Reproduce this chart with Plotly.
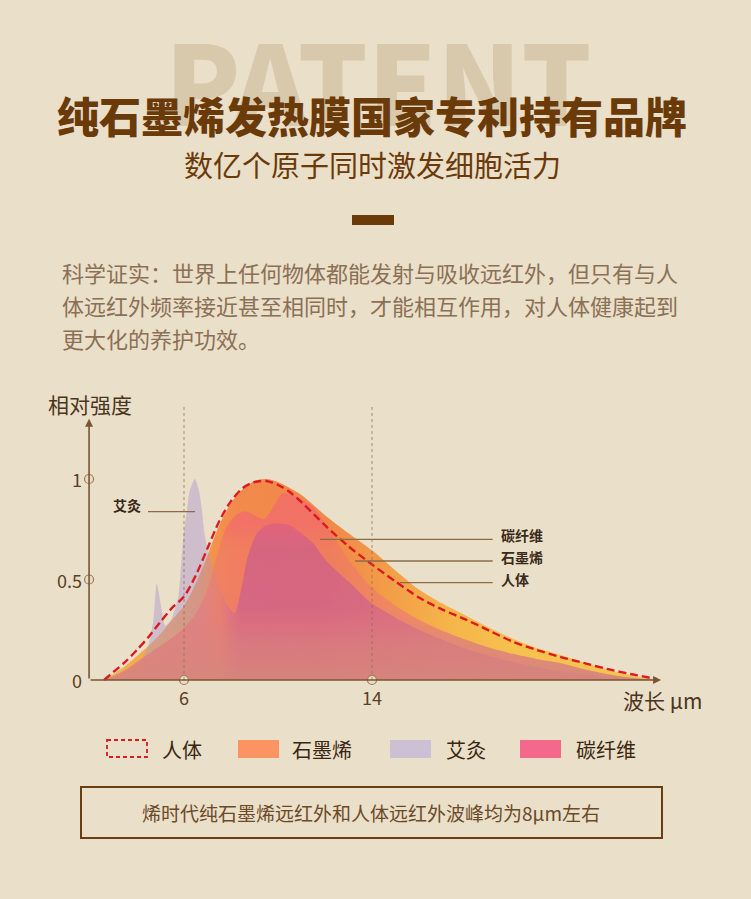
import plotly.graph_objects as go

W, H = 751, 899
BG = "#EADFC9"
BROWN = "#6B3A09"
FONT = "Noto Sans CJK SC"

# ---------------- data ----------------
human_x = [2.6, 3.0, 3.5, 4.0, 4.5, 5.0, 5.5, 6.0, 6.5, 7.0, 7.5, 8.0, 8.5, 9.0, 9.5, 10.0,
           10.5, 11.0, 12.0, 13.0, 14.0, 15.0, 16.0, 17.0, 18.0, 19.0, 20.0, 21.0, 22.0,
           23.0, 24.0, 25.0, 26.1]
human_y = [0.0, 0.04, 0.09, 0.15, 0.215, 0.29, 0.36, 0.415, 0.52, 0.655, 0.79, 0.89, 0.955,
           0.985, 0.99, 0.97, 0.935, 0.885, 0.77, 0.665, 0.575, 0.49, 0.41, 0.35, 0.30,
           0.245, 0.19, 0.15, 0.115, 0.085, 0.055, 0.03, 0.005]

graphene_x = [2.6, 3.0, 3.5, 4.0, 4.5, 5.0, 5.5, 6.0, 6.5, 7.0, 7.5, 8.0, 8.5, 9.0, 9.5, 10.0,
              10.5, 11.0, 12.0, 13.0, 14.0, 15.0, 16.0, 17.0, 18.0, 19.0, 20.0, 21.0, 22.0,
              23.0, 24.0, 25.0, 26.1]
graphene_y = [0.0, 0.03, 0.07, 0.12, 0.17, 0.23, 0.30, 0.37, 0.48, 0.62, 0.77, 0.88, 0.95,
              0.99, 1.0, 0.985, 0.955, 0.92, 0.82, 0.73, 0.645, 0.545, 0.45, 0.38, 0.32,
              0.26, 0.205, 0.16, 0.125, 0.088, 0.052, 0.025, 0.0]

carbon_x = [2.6, 3.0, 3.5, 4.0, 4.5, 5.0, 5.5, 6.0, 6.5, 7.0, 7.4, 7.8, 8.2, 8.6, 9.0, 9.4,
            9.8, 10.2, 10.6, 11.0, 11.5, 12.0, 13.0, 14.0, 15.0, 16.0, 17.0, 18.0, 19.0,
            20.0, 21.0, 22.0, 23.0, 24.0, 25.0, 26.0]
carbon_y = [0.0, 0.02, 0.05, 0.09, 0.13, 0.17, 0.21, 0.26, 0.33, 0.45, 0.62, 0.76, 0.82,
            0.84, 0.82, 0.80, 0.86, 0.93, 0.92, 0.90, 0.86, 0.78, 0.60, 0.46, 0.37, 0.30,
            0.245, 0.20, 0.16, 0.13, 0.105, 0.085, 0.055, 0.03, 0.012, 0.0]

moxa_x = [3.3, 3.8, 4.2, 4.5, 4.7, 4.84, 5.05, 5.2, 5.45, 5.75, 5.97, 6.11, 6.25, 6.47, 6.62,
          6.75, 6.9, 7.4, 7.8, 8.15, 8.45, 8.7, 9.1, 9.5, 9.9, 10.5, 11.0, 11.5, 12.0, 13.0,
          14.0, 15.0, 16.0, 17.0, 18.0, 19.0, 20.0, 21.0, 22.0, 23.0, 24.0, 25.0, 26.0]
moxa_y = [0.0, 0.04, 0.10, 0.18, 0.30, 0.48, 0.35, 0.27, 0.30, 0.41, 0.71, 0.83, 0.945, 1.0,
          0.95, 0.86, 0.71, 0.50, 0.38, 0.33, 0.46, 0.61, 0.73, 0.77, 0.78, 0.77, 0.73, 0.68,
          0.60, 0.49, 0.38, 0.31, 0.25, 0.20, 0.155, 0.12, 0.09, 0.065, 0.045, 0.03, 0.015,
          0.005, 0.0]

y_ticks = [0, 0.5, 1]
y_tick_labels = ["0", "0.5", "1"]
x_ticks = [6, 14]
x_tick_labels = ["6", "14"]

legend_names = ["人体", "石墨烯", "艾灸", "碳纤维"]
title = "纯石墨烯发热膜国家专利持有品牌"
subtitle = "数亿个原子同时激发细胞活力"
para = ["科学证实：世界上任何物体都能发射与吸收远红外，但只有与人",
        "体远红外频率接近甚至相同时，才能相互作用，对人体健康起到",
        "更大化的养护功效。"]
note = "烯时代纯石墨烯远红外和人体远红外波峰均为8μm左右"

# ---------------- helpers (pixel -> paper) ----------------
def P(px):
    return px / W

def Q(py):
    return 1 - py / H

X0 = 6 - 184 / 23.5
X1 = 6 + (W - 184) / 23.5
Y0 = (680 - H) / 201
Y1 = 680 / 201

annotations = []
shapes = []

def text(px, py, s, size, color, xanchor="center", weight=None, family=FONT):
    f = dict(family=family, size=size, color=color)
    if weight is not None:
        f["weight"] = weight
    annotations.append(dict(x=P(px), y=Q(py), xref="paper", yref="paper", text=s,
                            showarrow=False, xanchor=xanchor, yanchor="middle", font=f))

fig = go.Figure()

# graphene (orange -> yellow)
fig.add_trace(go.Scatter(
    x=graphene_x, y=graphene_y, mode="lines", line=dict(width=0, shape="spline", smoothing=0.8),
    fill="tozeroy",
    fillgradient=dict(type="horizontal", colorscale=[
        [0.0, "#F6B44B"], [0.12, "#F5A24C"], [0.24, "#F28A4C"], [0.40, "#F08848"],
        [0.50, "#F29A48"], [0.62, "#F5B44A"], [0.75, "#F6C24E"], [1.0, "#F7C452"]]),
    hoverinfo="skip", showlegend=False))

# moxa (lavender -> mauve)
fig.add_trace(go.Scatter(
    x=moxa_x, y=moxa_y, mode="lines", line=dict(width=0, shape="spline", smoothing=0.6),
    fill="tozeroy",
    fillgradient=dict(type="horizontal", colorscale=[
        [0.0, "rgba(172,148,205,0.45)"], [0.15, "rgba(172,148,205,0.45)"],
        [0.185, "rgba(180,140,190,0.22)"], [0.205, "rgba(175,90,170,0.45)"],
        [0.225, "rgba(168,70,170,0.6)"], [1.0, "rgba(168,75,165,0.55)"]]),
    hoverinfo="skip", showlegend=False))

# carbon fibre (pink)
fig.add_trace(go.Scatter(
    x=carbon_x, y=carbon_y, mode="lines", line=dict(width=0, shape="spline", smoothing=0.7),
    fill="tozeroy",
    fillgradient=dict(type="vertical", start=0, stop=0.93, colorscale=[
        [0.0, "rgba(214,134,124,0.95)"], [0.2, "rgba(222,126,126,0.8)"],
        [0.4, "rgba(236,110,128,0.45)"], [0.7, "rgba(238,108,120,0.4)"],
        [0.82, "rgba(242,100,118,0.6)"], [1.0, "rgba(242,100,115,0.65)"]]),
    hoverinfo="skip", showlegend=False))

# human body (dashed red)
fig.add_trace(go.Scatter(
    x=human_x, y=human_y, mode="lines",
    line=dict(color="#DD1A22", width=2.4, dash="8px,4px", shape="spline", smoothing=0.8),
    hoverinfo="skip", showlegend=False))

# tick circles
fig.add_trace(go.Scatter(
    x=[1.96] * (len(y_ticks) - 1) + x_ticks, y=y_ticks[1:] + [0] * len(x_ticks),
    mode="markers",
    marker=dict(symbol="circle", size=9, color="#E9DCC2", line=dict(color="#9A7B58", width=1.2)),
    hoverinfo="skip", showlegend=False))

# guide dashed verticals
for xv in x_ticks:
    shapes.append(dict(type="line", xref="x", yref="y", x0=xv, x1=xv, y0=0, y1=1.36,
                       line=dict(color="rgba(140,110,80,0.75)", width=1, dash="dot"),
                       layer="above"))

# axes with arrows
annotations.append(dict(x=1.96, y=1.30, ax=1.96, ay=0, xref="x", yref="y", axref="x", ayref="y",
                        text="", showarrow=True, arrowhead=2, arrowsize=1, arrowwidth=1.6,
                        arrowcolor="#7A5533"))
annotations.append(dict(x=26.3, y=0, ax=1.96, ay=0, xref="x", yref="y", axref="x", ayref="y",
                        text="", showarrow=True, arrowhead=2, arrowsize=1, arrowwidth=1.6,
                        arrowcolor="#7A5533"))

# tick labels
for v, lab in zip(y_ticks, y_tick_labels):
    annotations.append(dict(x=P(84), y=v, xref="paper", yref="y", text=lab, showarrow=False,
                            xanchor="right", yanchor="middle",
                            font=dict(family=FONT, size=18, color="#5A4025")))
for v, lab in zip(x_ticks, x_tick_labels):
    annotations.append(dict(x=v, y=Q(697), xref="x", yref="paper", text=lab, showarrow=False,
                            xanchor="center", yanchor="middle",
                            font=dict(family=FONT, size=18, color="#5A4025")))

text(90, 404, "相对强度", 21, "#4A3520")
text(662, 700, "波长 μm", 21, "#4A3520")

# callouts
callouts = [("艾灸", 127, 505, 148, 195, 511.7, "center"),
            ("碳纤维", 499, 535, 320, 492.7, 539.3, "left"),
            ("石墨烯", 499, 557, 355, 492.7, 561, "left"),
            ("人体", 499, 579, 400, 492.7, 582.7, "left")]
for txt, tx, ty, lx0, lx1, ly, anc in callouts:
    text(tx, ty, txt, 14, "#3A2A18", xanchor=anc, weight=600)
    shapes.append(dict(type="line", xref="paper", yref="paper", x0=P(lx0), x1=P(lx1),
                       y0=Q(ly), y1=Q(ly), line=dict(color="#8C6C48", width=1.3), layer="above"))

# header texts
text(378, 78, "PATENT", 110, "#D8C9AC", weight=900)
text(372, 114, title, 42, BROWN, weight=900)
text(372, 164, subtitle, 29, BROWN)
shapes.append(dict(type="rect", xref="paper", yref="paper", x0=P(352), x1=P(394),
                   y0=Q(215), y1=Q(225), fillcolor=BROWN, line=dict(width=0)))

for i, line in enumerate(para):
    text(60, 272 + 33 * i, line, 22, "#8A7055", xanchor="left")

# legend
leg_fill = [None, "#FB9462", "#CDBFD4", "#F4698B"]
leg_box_x = [107, 238, 390, 520]
leg_text_x = [160, 290, 444, 574]
for name, f, bx, tx in zip(legend_names, leg_fill, leg_box_x, leg_text_x):
    if f is None:
        shapes.append(dict(type="rect", xref="paper", yref="paper", x0=P(bx), x1=P(bx + 40),
                           y0=Q(740), y1=Q(757),
                           line=dict(color="#DD1A22", width=1.8, dash="4px,3px")))
    else:
        shapes.append(dict(type="rect", xref="paper", yref="paper", x0=P(bx), x1=P(bx + 41),
                           y0=Q(740), y1=Q(758), fillcolor=f, line=dict(width=0)))
    text(tx, 749, name, 20, "#3A2712", xanchor="left")

# bottom note box
shapes.append(dict(type="rect", xref="paper", yref="paper", x0=P(81), x1=P(662),
                   y0=Q(787), y1=Q(838), line=dict(color="#6A3E12", width=2)))
text(371, 812, note, 19, "#6B4A28")

fig.update_layout(
    width=W, height=H, margin=dict(l=0, r=0, t=0, b=0),
    paper_bgcolor=BG, plot_bgcolor=BG,
    xaxis=dict(range=[X0, X1], visible=False, fixedrange=True, domain=[0, 1]),
    yaxis=dict(range=[Y0, Y1], visible=False, fixedrange=True, domain=[0, 1]),
    shapes=shapes, annotations=annotations, showlegend=False,
)

fig.write_html("out.html")
